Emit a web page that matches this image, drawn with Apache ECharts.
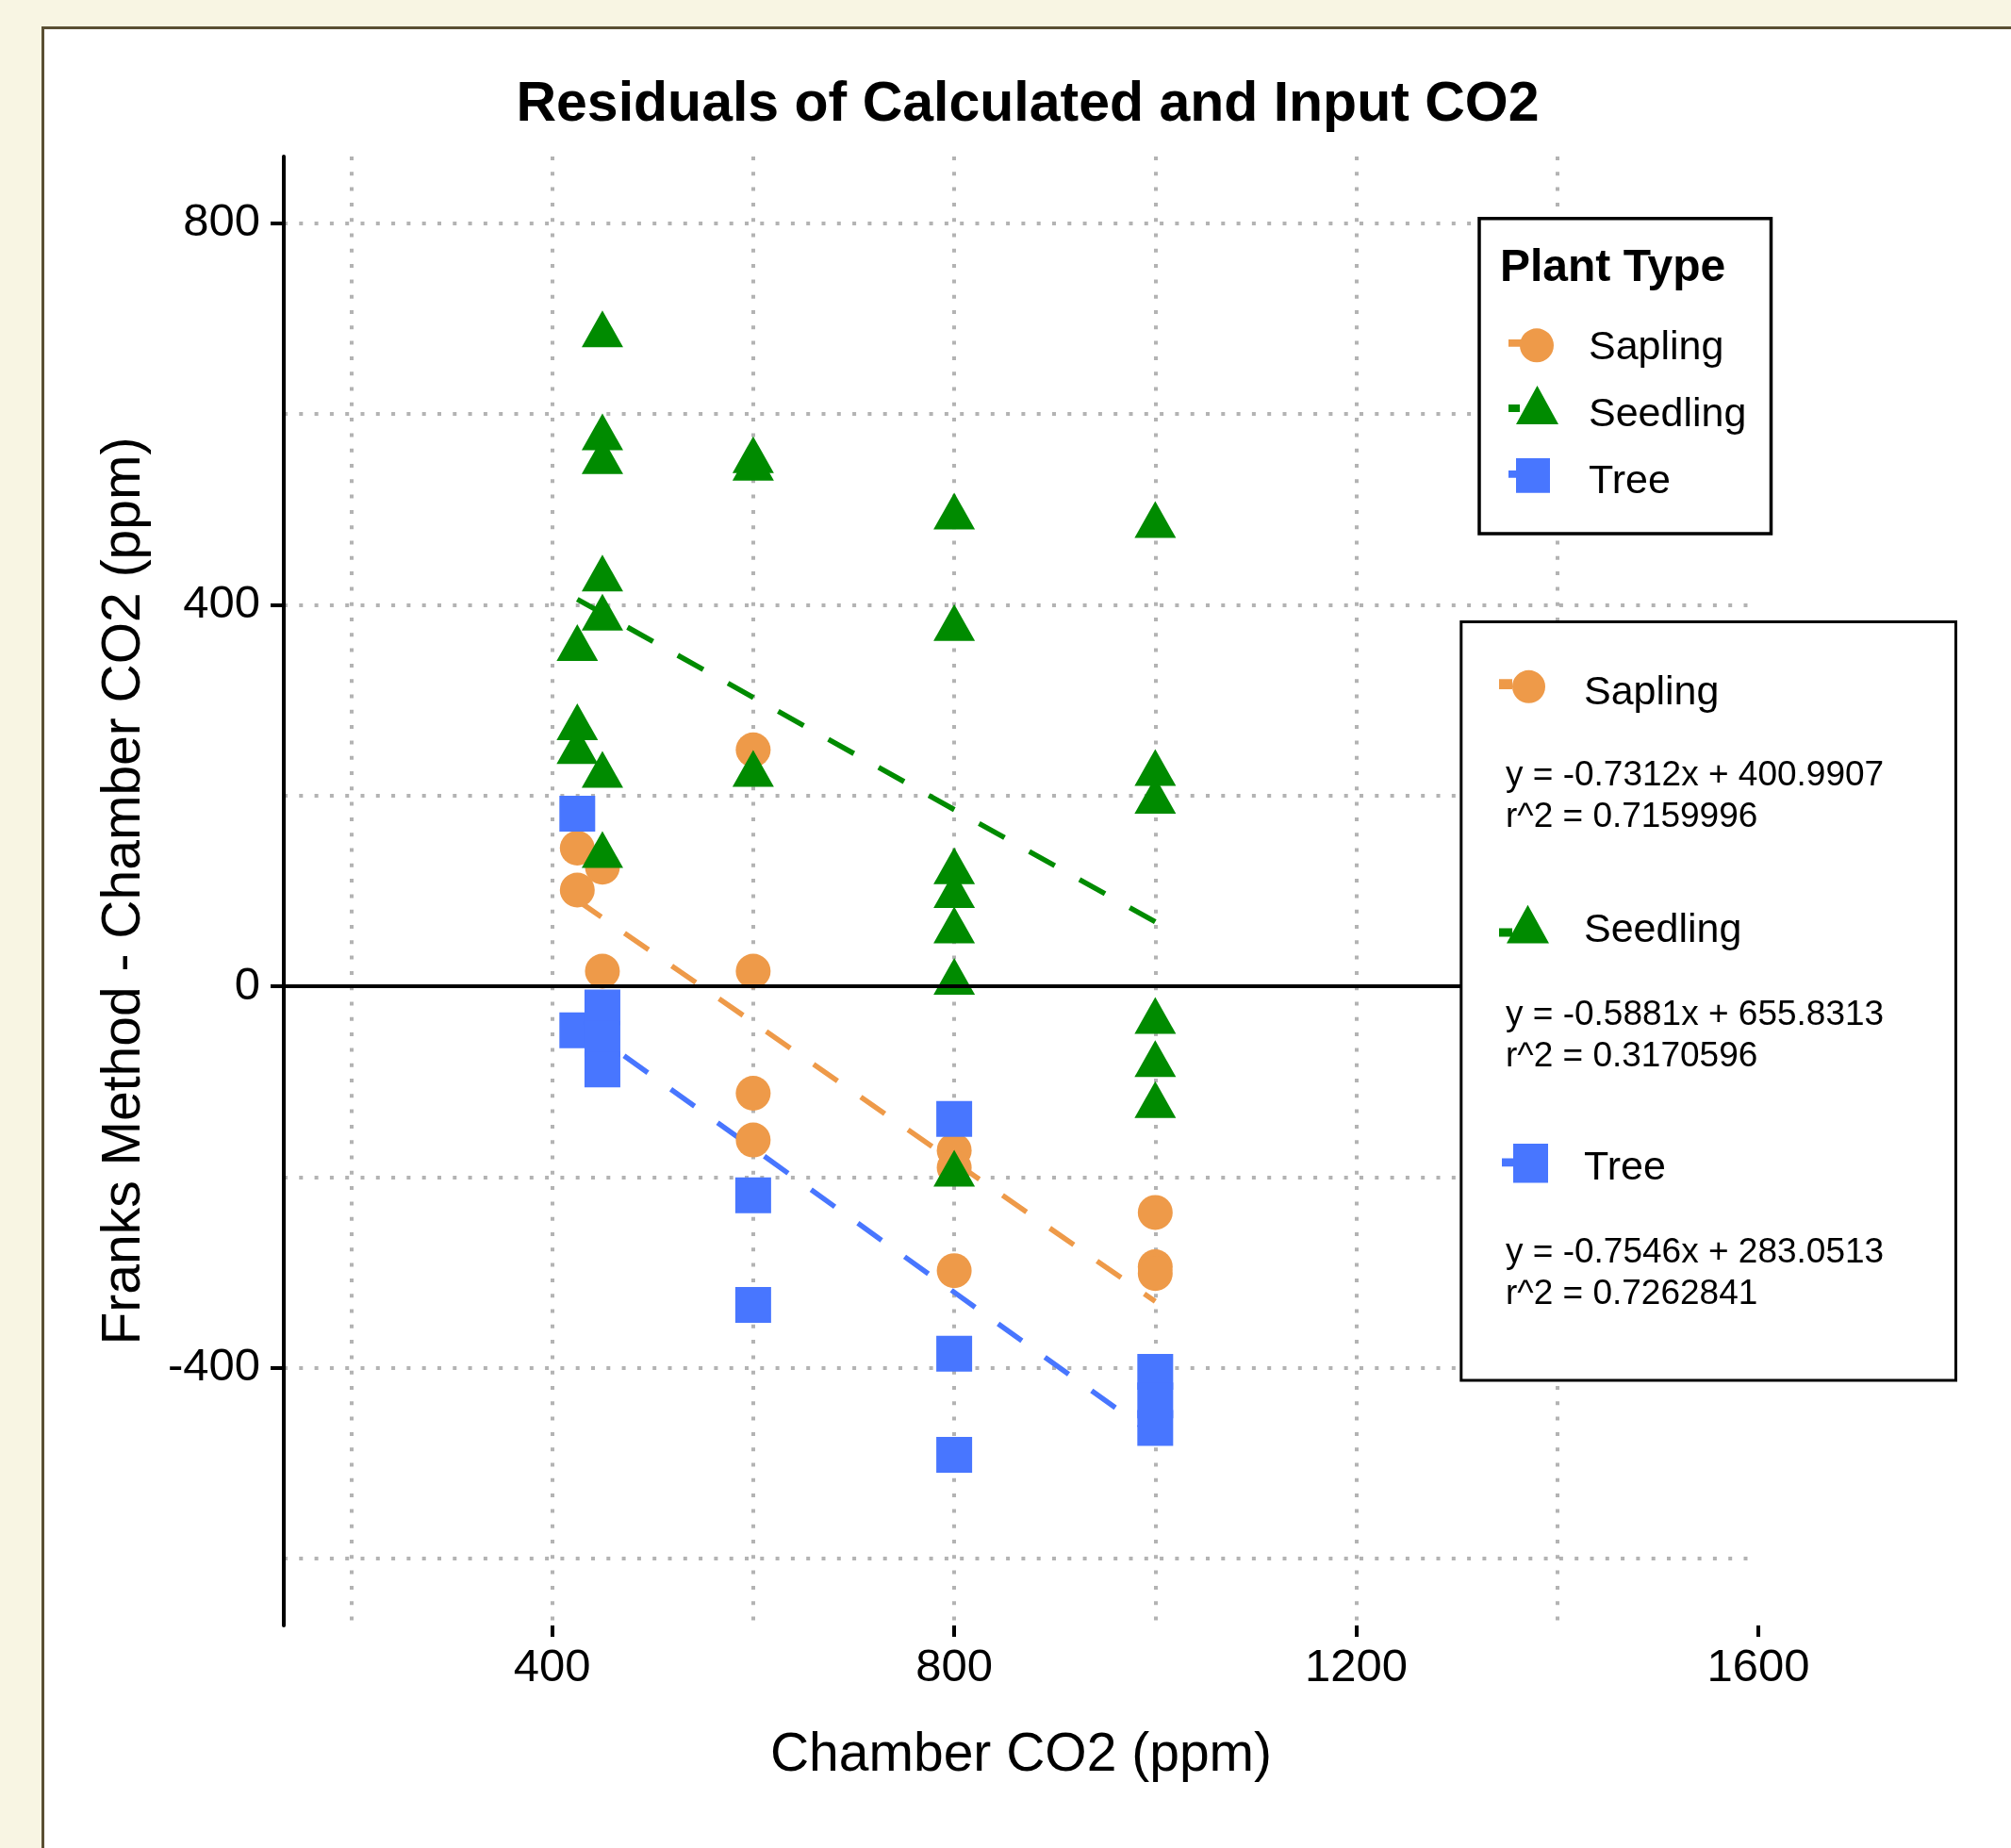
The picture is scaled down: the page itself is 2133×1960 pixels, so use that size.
<!DOCTYPE html>
<html>
<head>
<meta charset="utf-8">
<title>Residuals of Calculated and Input CO2</title>
<script src="https://cdn.jsdelivr.net/npm/echarts@6.0.0/dist/echarts.min.js"></script>
<style>
  html, body { margin: 0; padding: 0; width: 2133px; height: 1960px; overflow: hidden; background: #f8f5e3; }
  .frame { position: absolute; left: 44px; top: 28px; width: 2200px; height: 2100px; background: #fff;
           border-top: 3px solid #5a4f33; border-left: 3px solid #5a4f33; }
  #chart { position: absolute; left: 0; top: 0; width: 2133px; height: 1960px; }
</style>
</head>
<body>
<div class="frame"></div>
<div id="chart"></div>
<script>
// plant types, same order as the legends
const groups = ['Sapling', 'Seedling', 'Tree'];
const colors = ['#EE9A49', '#008B00', '#4876FF'];

// residuals (x = chamber CO2, y = Franks - chamber)
const saplingX = [425, 450, 425, 450, 600, 600, 600, 600, 800, 800, 800, 1000, 1000, 1000, 1000];
const saplingY = [145, 125, 101, 16, 248, 16, -112, -161, -172, -190, -298, -237, -294, -301, -446];

const seedlingX = [450, 450, 450, 450, 450, 425, 425, 425, 450, 450, 600, 600, 600,
                   800, 800, 800, 800, 800, 800, 800, 1000, 1000, 1000, 1000, 1000, 1000];
const seedlingY = [683, 575, 550, 427, 386, 354, 271, 246, 221, 137, 551, 543, 222,
                   492, 375, 120, 95, 58, 4, -197, 483, 223, 194, -37, -82, -125];

const treeX = [425, 425, 450, 450, 450, 600, 600, 800, 800, 800, 1000, 1000, 1000];
const treeY = [181, -46, -22, -55, -87, -219, -334, -139, -385, -491, -404, -434, -463];

// linear fits printed in the second box
const slopes = [-0.7312, -0.5881, -0.7546];
const intercepts = [400.9907, 655.8313, 283.0513];
const rSquared = ['0.7159996', '0.3170596', '0.7262841'];
const fitFrom = [425, 425, 425];
const fitTo = [1000, 1000, 1000];

const xTicks = [400, 800, 1200, 1600];
const yTicks = [-400, 0, 400, 800];

const FONT = "'Liberation Sans', Arial, sans-serif";

function pairs(xs, ys) {
  return xs.map((x, i) => [x, ys[i]]);
}

// legend key = short bit of the dashed fit line + the point symbol
function box(x, y, w, h) {
  return `M${x} ${y}L${x + w} ${y}L${x + w} ${y + h}L${x} ${y + h}Z`;
}
function disc(cx, cy, r) {
  return `M${cx - r} ${cy}A${r} ${r} 0 1 1 ${cx + r} ${cy}A${r} ${r} 0 1 1 ${cx - r} ${cy}Z`;
}
function tri(x0, y0, x1, y1) {
  return `M${x0} ${y1}L${(x0 + x1) / 2} ${y0}L${x1} ${y1}Z`;
}
// the zero length corners keep the path at 1:1 inside the item box
function keyIcon(w, h, parts) {
  return 'path://M0 0L0 0Z' + parts.join('') + `M${w} ${h}L${w} ${h}Z`;
}

const icons1 = [
  keyIcon(80, 64, [box(0, 23, 16, 7.7), disc(30, 29.3, 18)]),
  keyIcon(80, 64, [box(0, 21, 12, 8), tri(8, 1, 53, 42)]),
  keyIcon(80, 64, [box(0, 20, 8, 7.7), box(8, 7, 36, 36.7)])
];
const icons2 = [
  keyIcon(85, 64, [box(0, 17.3, 14, 10.7), disc(31.5, 25.3, 17.5)]),
  keyIcon(85, 64, [box(0, 29.4, 14, 9), tri(8, 4.8, 53, 45.5)]),
  keyIcon(85, 64, [box(3, 21.6, 12, 8.6), box(15, 6, 37, 41.4)])
];

const points = [pairs(saplingX, saplingY), pairs(seedlingX, seedlingY), pairs(treeX, treeY)];
const symbols = ['circle', 'triangle', 'rect'];
const symbolSizes = [37, [44, 39], 38];
const symbolOffsets = [[0, 0], [0, -6.5], [0, 0]];

const series = [];
groups.forEach((g, i) => {
  series.push({
    name: g + ' fit',
    type: 'line',
    data: [
      [fitFrom[i], slopes[i] * fitFrom[i] + intercepts[i]],
      [fitTo[i], slopes[i] * fitTo[i] + intercepts[i]]
    ],
    symbol: 'none',
    showSymbol: false,
    lineStyle: { color: colors[i], width: 5.5, type: [31, 30], cap: 'butt' },
    silent: true,
    z: 1
  });
});
groups.forEach((g, i) => {
  const s = {
    name: g,
    type: 'scatter',
    data: points[i],
    symbol: symbols[i],
    symbolSize: symbolSizes[i],
    symbolOffset: symbolOffsets[i],
    itemStyle: { color: colors[i], opacity: 1 },
    emphasis: { disabled: true },
    silent: true,
    z: 2
  };
  if (i === 2) {
    // horizontal reference line at zero
    s.markLine = {
      silent: true,
      symbol: ['none', 'none'],
      label: { show: false },
      lineStyle: { color: '#000', width: 4, type: 'solid' },
      data: [{ yAxis: 0 }]
    };
  }
  series.push(s);
});

const gridLine = { show: true, showMinLine: false, showMaxLine: false,
                   lineStyle: { color: '#b3b3b3', width: 4, type: [4, 12.3] } };

// white legend boxes sit above the panel (they hide the zero line)
const graphic = [
  { type: 'rect', z: 20, silent: true,
    shape: { x: 1569, y: 231.7, width: 309.5, height: 334.3 },
    style: { fill: '#fff', stroke: '#000', lineWidth: 3.5 } },
  { type: 'rect', z: 20, silent: true,
    shape: { x: 1549.8, y: 659.5, width: 524.7, height: 804.5 },
    style: { fill: '#fff', stroke: '#000', lineWidth: 3 } },
  { type: 'text', z: 30, x: 1090, y: 112,
    style: { text: 'Residuals of Calculated and Input CO2', fontSize: 59, fontWeight: 'bold',
             fontFamily: FONT, fill: '#000', align: 'center', verticalAlign: 'middle' } },
  { type: 'text', z: 30, x: 1591, y: 285,
    style: { text: 'Plant Type', fontSize: 48, fontWeight: 'bold',
             fontFamily: FONT, fill: '#000', align: 'left', verticalAlign: 'middle' } }
];
const eqCenters = [845, 1098.7, 1350.6];
groups.forEach((g, i) => {
  graphic.push({
    type: 'text', z: 30, x: 1597, y: eqCenters[i],
    style: {
      text: `y = ${slopes[i]}x + ${intercepts[i]}\nr^2 = ${rSquared[i]}`,
      fontSize: 37, lineHeight: 44, fontFamily: FONT, fill: '#000',
      align: 'left', verticalAlign: 'middle'
    }
  });
});

const legendText = { fontSize: 43, color: '#000', fontFamily: FONT };

const chart = echarts.init(document.getElementById('chart'));
chart.setOption({
  animation: false,
  backgroundColor: 'transparent',
  textStyle: { fontFamily: FONT },
  grid: { left: 301, right: 268, top: 166, bottom: 236, containLabel: false, outerBoundsMode: 'none' },
  xAxis: [
    { type: 'value', min: 133, max: 1600, splitNumber: 7,
      axisLine: { show: false, onZero: false }, axisTick: { show: false }, axisLabel: { show: false },
      splitLine: gridLine },
    { type: 'value', min: 133, max: 1600, position: 'bottom',
      axisLine: { show: false, onZero: false },
      axisTick: { show: true, customValues: xTicks, length: 12, lineStyle: { color: '#000', width: 4 } },
      axisLabel: { customValues: xTicks, formatter: v => (v % 400 === 0 ? String(v) : ''),
                   fontSize: 49, color: '#000', margin: 21, fontFamily: FONT },
      splitLine: { show: false },
      name: 'Chamber CO2 (ppm)', nameLocation: 'middle', nameGap: 110,
      nameTextStyle: { fontSize: 57, color: '#000', fontFamily: FONT } }
  ],
  yAxis: [
    { type: 'value', min: -670, max: 870, splitNumber: 7,
      axisLine: { show: false, onZero: false }, axisTick: { show: false }, axisLabel: { show: false },
      splitLine: gridLine },
    { type: 'value', min: -670, max: 870, position: 'left',
      axisLine: { show: true, onZero: false, lineStyle: { color: '#000', width: 4 } },
      axisTick: { show: true, customValues: yTicks, length: 14, lineStyle: { color: '#000', width: 4 } },
      axisLabel: { customValues: yTicks, formatter: v => (v % 400 === 0 ? String(v) : ''),
                   fontSize: 49, color: '#000', margin: 25, fontFamily: FONT },
      splitLine: { show: false },
      name: 'Franks Method - Chamber CO2 (ppm)', nameLocation: 'middle', nameGap: 140,
      nameTextStyle: { fontSize: 57, color: '#000', fontFamily: FONT } }
  ],
  legend: [
    { data: groups.map((g, i) => ({ name: g, icon: icons1[i] })),
      orient: 'vertical', left: 1600, top: 337, padding: 0,
      itemWidth: 80, itemHeight: 64, itemGap: 7, selectedMode: false, z: 40,
      textStyle: legendText },
    { data: groups.map((g, i) => ({ name: g, icon: icons2[i] })),
      orient: 'vertical', left: 1590, top: 703, padding: 0,
      itemWidth: 85, itemHeight: 64, itemGap: 188, selectedMode: false, z: 40,
      textStyle: legendText }
  ],
  graphic: graphic,
  series: series
});
</script>
</body>
</html>
